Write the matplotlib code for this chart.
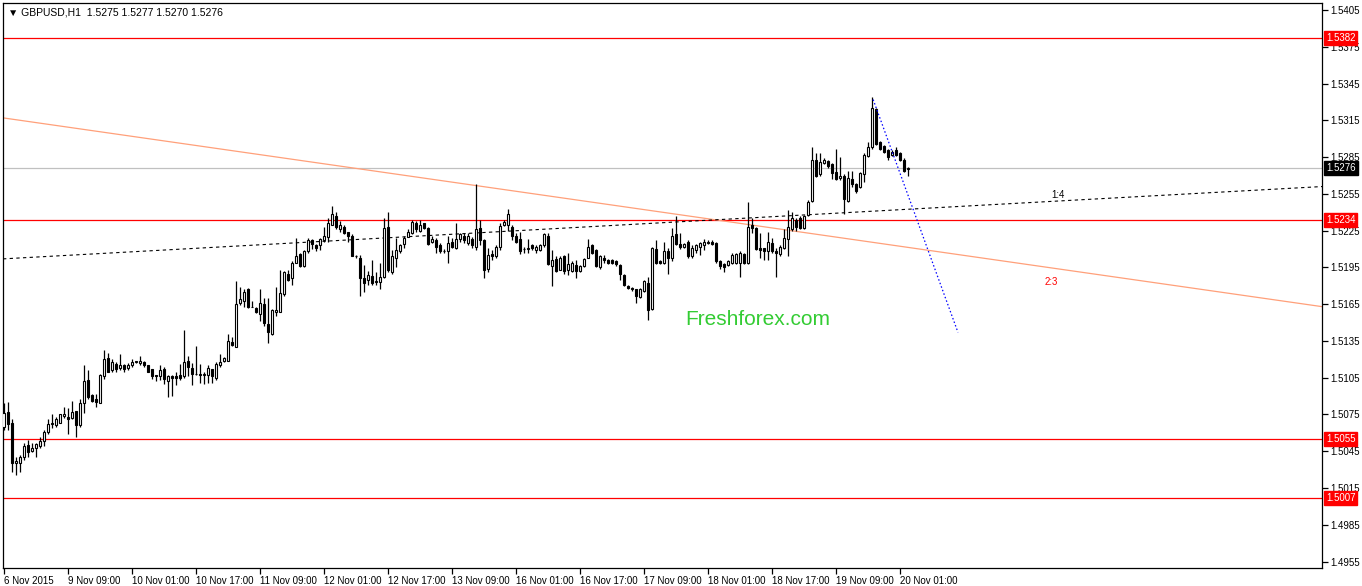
import numpy as np
import matplotlib.pyplot as plt
import matplotlib.transforms as mtransforms

plt.rcParams["font.family"] = ["Liberation Sans", "DejaVu Sans"]

# ---------------------------------------------------------------
# GBPUSD H1 candles (6 Nov 2015 18:00 .. 20 Nov 2015 ~03:00)
# ---------------------------------------------------------------
opens = [
    1.5065, 1.5077, 1.5068, 1.5035, 1.5035, 1.5040, 1.5050, 1.5045, 1.5048, 1.5049,
    1.5053, 1.5061, 1.5067, 1.5066, 1.5068, 1.5074, 1.5073, 1.5072, 1.5078, 1.5066,
    1.5084, 1.5103, 1.5091, 1.5088, 1.5084, 1.5106, 1.5121, 1.5111, 1.5116, 1.5113,
    1.5115, 1.5113, 1.5115, 1.5118, 1.5117, 1.5118, 1.5115, 1.5112, 1.5107, 1.5106,
    1.5112, 1.5102, 1.5106, 1.5106, 1.5107, 1.5106, 1.5119, 1.5113, 1.5108, 1.5108,
    1.5107, 1.5107, 1.5112, 1.5105, 1.5115, 1.5119, 1.5119, 1.5134, 1.5130, 1.5166,
    1.5168, 1.5177, 1.5163, 1.5162, 1.5157, 1.5165, 1.5149, 1.5141, 1.5159, 1.5159,
    1.5173, 1.5190, 1.5186, 1.5199, 1.5206, 1.5196, 1.5208, 1.5217, 1.5213, 1.5213,
    1.5217, 1.5220, 1.5230, 1.5237, 1.5226, 1.5228, 1.5224, 1.5221, 1.5204, 1.5203,
    1.5186, 1.5185, 1.5188, 1.5183, 1.5183, 1.5187, 1.5228, 1.5191, 1.5203, 1.5208,
    1.5214, 1.5220, 1.5223, 1.5231, 1.5225, 1.5231, 1.5227, 1.5216, 1.5217, 1.5213,
    1.5208, 1.5208, 1.5216, 1.5211, 1.5218, 1.5221, 1.5215, 1.5218, 1.5212, 1.5227,
    1.5217, 1.5194, 1.5206, 1.5204, 1.5212, 1.5230, 1.5230, 1.5228, 1.5221, 1.5218,
    1.5210, 1.5210, 1.5213, 1.5209, 1.5209, 1.5213, 1.5221, 1.5196, 1.5202, 1.5193,
    1.5204, 1.5193, 1.5192, 1.5197, 1.5192, 1.5196, 1.5203, 1.5213, 1.5209, 1.5195,
    1.5203, 1.5201, 1.5201, 1.5200, 1.5197, 1.5189, 1.5180, 1.5178, 1.5177, 1.5171,
    1.5176, 1.5182, 1.5161, 1.5210, 1.5200, 1.5199, 1.5208, 1.5203, 1.5222, 1.5214,
    1.5212, 1.5216, 1.5204, 1.5209, 1.5212, 1.5213, 1.5216, 1.5216, 1.5215, 1.5200,
    1.5198, 1.5197, 1.5199, 1.5199, 1.5199, 1.5206, 1.5199, 1.5230, 1.5227, 1.5211,
    1.5211, 1.5208, 1.5215, 1.5208, 1.5206, 1.5211, 1.5218, 1.5226, 1.5234, 1.5235,
    1.5227, 1.5238, 1.5249, 1.5283, 1.5271, 1.5280, 1.5282, 1.5279, 1.5273, 1.5268,
    1.5270, 1.5249, 1.5267, 1.5263, 1.5261, 1.5271, 1.5286, 1.5293, 1.5324, 1.5297,
    1.5294, 1.5291, 1.5287, 1.5291, 1.5288, 1.5283, 1.5275,
]
highs = [
    1.5084, 1.5085, 1.5071, 1.5040, 1.5042, 1.5052, 1.5054, 1.5052, 1.5052, 1.5057,
    1.5062, 1.5071, 1.5075, 1.5073, 1.5075, 1.5081, 1.5080, 1.5086, 1.5078, 1.5088,
    1.5115, 1.5111, 1.5092, 1.5092, 1.5108, 1.5128, 1.5125, 1.5120, 1.5118, 1.5124,
    1.5116, 1.5117, 1.5120, 1.5119, 1.5123, 1.5119, 1.5115, 1.5112, 1.5107, 1.5115,
    1.5114, 1.5107, 1.5107, 1.5110, 1.5116, 1.5144, 1.5123, 1.5117, 1.5131, 1.5116,
    1.5110, 1.5115, 1.5112, 1.5118, 1.5124, 1.5122, 1.5141, 1.5138, 1.5184, 1.5179,
    1.5177, 1.5178, 1.5168, 1.5163, 1.5177, 1.5170, 1.5170, 1.5161, 1.5179, 1.5193,
    1.5192, 1.5193, 1.5200, 1.5219, 1.5207, 1.5209, 1.5219, 1.5218, 1.5214, 1.5219,
    1.5228, 1.5235, 1.5245, 1.5240, 1.5233, 1.5230, 1.5224, 1.5222, 1.5205, 1.5205,
    1.5197, 1.5192, 1.5201, 1.5191, 1.5199, 1.5235, 1.5240, 1.5209, 1.5219, 1.5214,
    1.5221, 1.5226, 1.5234, 1.5233, 1.5234, 1.5231, 1.5228, 1.5221, 1.5219, 1.5215,
    1.5210, 1.5221, 1.5219, 1.5231, 1.5223, 1.5223, 1.5223, 1.5220, 1.5263, 1.5234,
    1.5218, 1.5211, 1.5209, 1.5213, 1.5231, 1.5234, 1.5243, 1.5230, 1.5223, 1.5224,
    1.5212, 1.5218, 1.5214, 1.5213, 1.5214, 1.5223, 1.5223, 1.5209, 1.5204, 1.5204,
    1.5205, 1.5207, 1.5200, 1.5201, 1.5197, 1.5203, 1.5218, 1.5214, 1.5210, 1.5205,
    1.5205, 1.5202, 1.5202, 1.5201, 1.5198, 1.5190, 1.5181, 1.5179, 1.5177, 1.5178,
    1.5185, 1.5187, 1.5212, 1.5217, 1.5201, 1.5216, 1.5211, 1.5227, 1.5237, 1.5223,
    1.5215, 1.5217, 1.5213, 1.5214, 1.5216, 1.5218, 1.5217, 1.5217, 1.5216, 1.5201,
    1.5199, 1.5201, 1.5207, 1.5207, 1.5208, 1.5207, 1.5248, 1.5235, 1.5228, 1.5223,
    1.5211, 1.5224, 1.5219, 1.5211, 1.5213, 1.5226, 1.5242, 1.5240, 1.5235, 1.5237,
    1.5238, 1.5250, 1.5293, 1.5288, 1.5288, 1.5284, 1.5283, 1.5280, 1.5292, 1.5285,
    1.5271, 1.5274, 1.5274, 1.5264, 1.5273, 1.5288, 1.5297, 1.5334, 1.5325, 1.5298,
    1.5295, 1.5292, 1.5291, 1.5293, 1.5289, 1.5284, 1.5277,
]
lows = [
    1.5062, 1.5062, 1.5028, 1.5026, 1.5028, 1.5038, 1.5040, 1.5044, 1.5040, 1.5048,
    1.5049, 1.5059, 1.5064, 1.5065, 1.5068, 1.5072, 1.5059, 1.5071, 1.5057, 1.5065,
    1.5076, 1.5088, 1.5085, 1.5081, 1.5084, 1.5104, 1.5110, 1.5110, 1.5110, 1.5111,
    1.5110, 1.5111, 1.5114, 1.5117, 1.5115, 1.5114, 1.5110, 1.5104, 1.5102, 1.5103,
    1.5100, 1.5089, 1.5090, 1.5099, 1.5103, 1.5105, 1.5106, 1.5099, 1.5107, 1.5101,
    1.5100, 1.5101, 1.5101, 1.5103, 1.5114, 1.5118, 1.5119, 1.5131, 1.5130, 1.5164,
    1.5163, 1.5162, 1.5163, 1.5158, 1.5151, 1.5147, 1.5133, 1.5140, 1.5155, 1.5159,
    1.5172, 1.5184, 1.5181, 1.5199, 1.5195, 1.5195, 1.5207, 1.5210, 1.5208, 1.5209,
    1.5216, 1.5216, 1.5230, 1.5226, 1.5224, 1.5222, 1.5216, 1.5204, 1.5203, 1.5172,
    1.5175, 1.5181, 1.5181, 1.5181, 1.5177, 1.5186, 1.5191, 1.5190, 1.5195, 1.5207,
    1.5211, 1.5220, 1.5222, 1.5224, 1.5224, 1.5226, 1.5213, 1.5215, 1.5207, 1.5207,
    1.5207, 1.5199, 1.5211, 1.5210, 1.5216, 1.5215, 1.5213, 1.5211, 1.5209, 1.5213,
    1.5186, 1.5191, 1.5201, 1.5203, 1.5209, 1.5229, 1.5225, 1.5217, 1.5215, 1.5206,
    1.5207, 1.5207, 1.5209, 1.5207, 1.5208, 1.5212, 1.5197, 1.5180, 1.5191, 1.5193,
    1.5190, 1.5189, 1.5191, 1.5186, 1.5191, 1.5195, 1.5203, 1.5206, 1.5195, 1.5194,
    1.5199, 1.5198, 1.5198, 1.5196, 1.5185, 1.5180, 1.5177, 1.5176, 1.5166, 1.5170,
    1.5175, 1.5152, 1.5160, 1.5198, 1.5198, 1.5198, 1.5190, 1.5200, 1.5213, 1.5210,
    1.5211, 1.5203, 1.5203, 1.5207, 1.5205, 1.5209, 1.5214, 1.5213, 1.5199, 1.5194,
    1.5191, 1.5196, 1.5198, 1.5198, 1.5187, 1.5198, 1.5198, 1.5223, 1.5209, 1.5203,
    1.5201, 1.5201, 1.5207, 1.5187, 1.5204, 1.5210, 1.5204, 1.5225, 1.5225, 1.5226,
    1.5226, 1.5237, 1.5248, 1.5269, 1.5270, 1.5279, 1.5276, 1.5267, 1.5266, 1.5266,
    1.5239, 1.5248, 1.5261, 1.5256, 1.5260, 1.5265, 1.5285, 1.5292, 1.5295, 1.5291,
    1.5288, 1.5283, 1.5286, 1.5286, 1.5282, 1.5273, 1.5270,
]
closes = [
    1.5076, 1.5067, 1.5035, 1.5037, 1.5040, 1.5049, 1.5044, 1.5048, 1.5051, 1.5053,
    1.5061, 1.5067, 1.5068, 1.5071, 1.5075, 1.5075, 1.5071, 1.5077, 1.5066, 1.5084,
    1.5102, 1.5089, 1.5086, 1.5085, 1.5107, 1.5120, 1.5110, 1.5118, 1.5112, 1.5115,
    1.5112, 1.5115, 1.5118, 1.5119, 1.5119, 1.5115, 1.5110, 1.5106, 1.5106, 1.5111,
    1.5104, 1.5106, 1.5105, 1.5105, 1.5105, 1.5118, 1.5114, 1.5108, 1.5108, 1.5107,
    1.5108, 1.5113, 1.5106, 1.5116, 1.5118, 1.5121, 1.5135, 1.5132, 1.5165, 1.5169,
    1.5175, 1.5163, 1.5163, 1.5159, 1.5166, 1.5150, 1.5142, 1.5160, 1.5160, 1.5174,
    1.5191, 1.5185, 1.5199, 1.5204, 1.5196, 1.5208, 1.5217, 1.5214, 1.5211, 1.5218,
    1.5221, 1.5231, 1.5239, 1.5228, 1.5230, 1.5223, 1.5221, 1.5204, 1.5204, 1.5186,
    1.5182, 1.5189, 1.5182, 1.5184, 1.5187, 1.5227, 1.5193, 1.5204, 1.5209, 1.5213,
    1.5219, 1.5224, 1.5232, 1.5226, 1.5230, 1.5227, 1.5214, 1.5218, 1.5212, 1.5208,
    1.5208, 1.5215, 1.5212, 1.5218, 1.5222, 1.5217, 1.5221, 1.5213, 1.5226, 1.5217,
    1.5193, 1.5205, 1.5204, 1.5212, 1.5229, 1.5232, 1.5239, 1.5221, 1.5216, 1.5208,
    1.5210, 1.5211, 1.5211, 1.5212, 1.5213, 1.5222, 1.5198, 1.5201, 1.5192, 1.5203,
    1.5192, 1.5198, 1.5199, 1.5192, 1.5196, 1.5202, 1.5212, 1.5207, 1.5196, 1.5204,
    1.5201, 1.5199, 1.5199, 1.5198, 1.5190, 1.5181, 1.5178, 1.5177, 1.5172, 1.5177,
    1.5184, 1.5160, 1.5211, 1.5199, 1.5199, 1.5208, 1.5203, 1.5221, 1.5214, 1.5212,
    1.5214, 1.5204, 1.5211, 1.5213, 1.5215, 1.5216, 1.5215, 1.5214, 1.5200, 1.5196,
    1.5195, 1.5200, 1.5205, 1.5206, 1.5207, 1.5199, 1.5228, 1.5227, 1.5210, 1.5209,
    1.5208, 1.5216, 1.5208, 1.5207, 1.5212, 1.5219, 1.5228, 1.5235, 1.5228, 1.5227,
    1.5237, 1.5248, 1.5283, 1.5270, 1.5281, 1.5283, 1.5278, 1.5272, 1.5267, 1.5270,
    1.5251, 1.5268, 1.5263, 1.5257, 1.5272, 1.5287, 1.5293, 1.5325, 1.5296, 1.5292,
    1.5289, 1.5285, 1.5289, 1.5287, 1.5283, 1.5274, 1.5276,
]

time_labels = ["6 Nov 2015", "9 Nov 09:00", "10 Nov 01:00", "10 Nov 17:00",
               "11 Nov 09:00", "12 Nov 01:00", "12 Nov 17:00", "13 Nov 09:00",
               "16 Nov 01:00", "16 Nov 17:00", "17 Nov 09:00", "18 Nov 01:00",
               "18 Nov 17:00", "19 Nov 09:00", "20 Nov 01:00"]
price_ticks = [1.4955, 1.4985, 1.5015, 1.5045, 1.5075, 1.5105, 1.5135, 1.5165,
               1.5195, 1.5225, 1.5255, 1.5285, 1.5315, 1.5345, 1.5375, 1.5405]

# horizontal levels and analysis objects
levels = [1.5382, 1.5234, 1.5055, 1.5007]
last_price = 1.5276
line_14 = [(0, 1.5202), (329.6, 1.5261)]     # dashed black "1:4"
line_23 = [(0, 1.5317), (329.6, 1.5163)]     # salmon "2:3"
proj_x = [217.4, 238.6]                      # blue dotted projection
proj_y = [1.5332, 1.5142]

BAR_STEP = 16
FS = 7

# ---------------------------------------------------------------
W, H = 1362, 586
fig = plt.figure(figsize=(W / 100, H / 100), dpi=100)
ax = fig.add_axes([3 / W, 18 / H, 1319 / W, 565 / H])

o = np.array(opens)
hi = np.array(highs)
lo = np.array(lows)
c = np.array(closes)
x = np.arange(len(o))
up = c >= o

# lines (behind candles)
for lv in levels:
    ax.axhline(lv, color="#ff0000", lw=0.9, zorder=1)
ax.axhline(last_price, color="#c0c0c0", lw=0.9, zorder=1)
ax.axline(line_23[0], line_23[1], color="#ffa07a", lw=0.9, zorder=1)
ax.axline(line_14[0], line_14[1], color="black", lw=0.8, ls=(0, (3, 3)), zorder=1)
ax.plot(proj_x, proj_y, color="#0000ff", lw=0.9, ls=(0, (1.2, 1.8)), zorder=5)

# candles
ax.vlines(x, lo, hi, color="black", lw=0.9, zorder=3)
body_lo = np.minimum(o, c)
body_h = np.abs(c - o)
ax.bar(x[up], body_h[up], bottom=body_lo[up], width=0.5, facecolor="white",
       edgecolor="black", linewidth=0.8, zorder=4)
ax.bar(x[~up], body_h[~up], bottom=body_lo[~up], width=0.5, facecolor="black",
       edgecolor="black", linewidth=0.8, zorder=4)

ax.set_xlim(-0.125, 329.6)
ax.set_ylim(1.49497, 1.54108)

# axes styling (MT4 look)
for sp in ax.spines.values():
    sp.set_color("black")
    sp.set_linewidth(0.9)

ax.yaxis.tick_right()
ax.set_yticks(price_ticks)
ax.set_yticklabels([f"{p:.4f}" for p in price_ticks])
ax.tick_params(axis="y", direction="out", length=4, width=0.9, pad=2,
               labelsize=FS, colors="black")

xt = [BAR_STEP * k for k in range(len(time_labels))]
ax.set_xticks(xt)
ax.set_xticklabels(time_labels)
for lbl in ax.get_xticklabels():
    lbl.set_horizontalalignment("left")
ax.tick_params(axis="x", direction="out", length=4, width=0.9, pad=1.5,
               labelsize=FS, colors="black")

# price boxes on the right scale
trans = mtransforms.blended_transform_factory(ax.transAxes, ax.transData)
for lv in levels:
    ax.text(1 + 4 / 1319, lv, f"{lv:.4f}", transform=trans, ha="left", va="center",
            color="white", fontsize=FS, clip_on=False, zorder=10,
            bbox=dict(boxstyle="square,pad=0.2", fc="#ff0000", ec="#ff0000"))
ax.text(1 + 4 / 1319, last_price, f"{last_price:.4f}", transform=trans, ha="left",
        va="center", color="white", fontsize=FS, clip_on=False, zorder=10,
        bbox=dict(boxstyle="square,pad=0.2", fc="black", ec="black"))

# header and labels
ax.text(0.004, 0.984, "\u25bc GBPUSD,H1  1.5275 1.5277 1.5270 1.5276",
        transform=ax.transAxes, ha="left", va="center", fontsize=7.5)
ax.text(0.8, 0.66, "1:4", transform=ax.transAxes, ha="center", va="center",
        fontsize=FS, color="black")
ax.text(0.7945, 0.507, "2:3", transform=ax.transAxes, ha="center", va="center",
        fontsize=FS, color="#ff0000")
ax.text(0.572, 0.439, "Freshforex.com", transform=ax.transAxes, ha="center",
        va="center", fontsize=15, color="#33cc33")

fig.savefig("out.png", dpi=100)
